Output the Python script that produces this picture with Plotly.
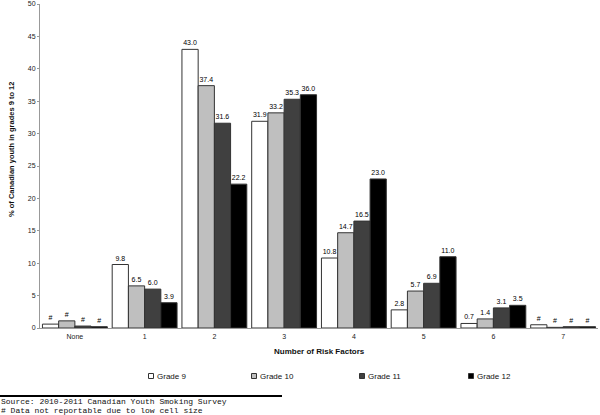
import plotly.graph_objects as go

categories = ["None", "1", "2", "3", "4", "5", "6", "7"]
grade9 = [0.6, 9.8, 43.0, 31.9, 10.8, 2.8, 0.7, 0.5]
grade10 = [1.1, 6.5, 37.4, 33.2, 14.7, 5.7, 1.4, 0.1]
grade11 = [0.3, 6.0, 31.6, 35.3, 16.5, 6.9, 3.1, 0.2]
grade12 = [0.2, 3.9, 22.2, 36.0, 23.0, 11.0, 3.5, 0.2]
not_reportable = ["None", "7"]
series_names = ["Grade 9", "Grade 10", "Grade 11", "Grade 12"]
series_colors = ["#ffffff", "#bfbfbf", "#404040", "#000000"]
y_ticks = [0, 5, 10, 15, 20, 25, 30, 35, 40, 45, 50]

FONT = "Liberation Sans, Arial, sans-serif"
MONO = "Liberation Mono, Courier New, monospace"

# pixel -> paper helpers (plot area: x 40..598, y 4..328)
L, R, T, B = 40, 2, 4, 87
PW, PH = 600 - L - R, 415 - T - B
def px(x):
    return (x - L) / PW
def py(y):
    return (415 - B - y) / PH

fig = go.Figure()
for name, vals, col in zip(series_names, [grade9, grade10, grade11, grade12], series_colors):
    labels = ["#" if c in not_reportable else f"{v:.1f}" for c, v in zip(categories, vals)]
    fig.add_trace(go.Bar(
        x=categories, y=vals, name=name, text=labels,
        textposition="outside", cliponaxis=False,
        outsidetextfont=dict(size=7, color="black", family=FONT),
        marker=dict(color=col, line=dict(color="#333333", width=1)),
        showlegend=False,
    ))

fig.update_layout(
    width=600, height=415,
    margin=dict(l=L, r=R, t=T, b=B),
    paper_bgcolor="white", plot_bgcolor="white",
    barmode="group", bargap=0.07, bargroupgap=0,
    font=dict(family=FONT, size=7, color="#222"),
    showlegend=False,
    xaxis=dict(showline=True, linecolor="#999999", linewidth=1, ticks="",
               tickfont=dict(size=7, color="#222"), automargin=False,
               ticklabelstandoff=2),
    yaxis=dict(range=[0, 50], tickvals=y_ticks, showline=True, linecolor="#999999", linewidth=1,
               ticks="outside", ticklen=2, tickcolor="#999999", showgrid=False, zeroline=False,
               tickfont=dict(size=7, color="#222"), automargin=False),
)

# axis titles
fig.add_annotation(text="<b>Number of Risk Factors</b>", xref="paper", yref="paper",
                   x=0.5, y=py(352), xanchor="center", yanchor="middle", showarrow=False,
                   font=dict(size=8, color="#111", family=FONT))
fig.add_annotation(text="<b>% of Canadian youth in grades 9 to 12</b>", xref="paper", yref="paper",
                   x=px(11), y=py(150), xanchor="center", yanchor="middle", showarrow=False,
                   textangle=-90, font=dict(size=7.5, color="#111", family=FONT))

# legend drawn with shapes + text
legend_x = [151, 254, 362, 471]
legend_y = 376
for name, col, lx in zip(series_names, series_colors, legend_x):
    fig.add_shape(type="rect", xref="paper", yref="paper",
                  x0=px(lx - 2.5), x1=px(lx + 2.5), y0=py(legend_y + 2.5), y1=py(legend_y - 2.5),
                  fillcolor=col, line=dict(color="#333333", width=1))
    fig.add_annotation(text=name, xref="paper", yref="paper",
                       x=px(lx + 4), y=py(legend_y), xanchor="left", yanchor="middle",
                       showarrow=False, font=dict(size=8, color="#111", family=FONT))

# footer
fig.add_shape(type="line", xref="paper", yref="paper",
              x0=px(0), x1=px(282), y0=py(396), y1=py(396),
              line=dict(color="black", width=2))
fig.add_annotation(text="Source: 2010-2011 Canadian Youth Smoking Survey", xref="paper", yref="paper",
                   x=px(0), y=py(401.5), xanchor="left", yanchor="middle", showarrow=False,
                   borderpad=0, font=dict(family=MONO, size=8, color="#111"))
fig.add_annotation(text="# Data not reportable due to low cell size", xref="paper", yref="paper",
                   x=px(0), y=py(410.5), xanchor="left", yanchor="middle", showarrow=False,
                   borderpad=0, font=dict(family=MONO, size=8, color="#111"))

fig.write_html("out.html", config={"displayModeBar": False},
               post_script="document.body.style.margin='0px';")
